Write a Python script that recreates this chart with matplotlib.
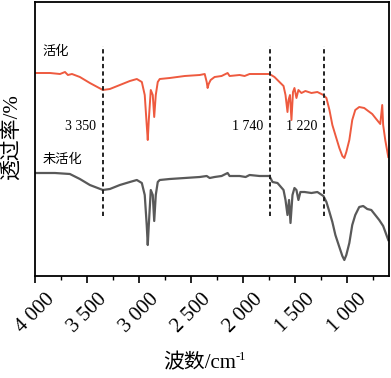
import matplotlib
matplotlib.use("Agg")
import matplotlib.pyplot as plt
import matplotlib.transforms as mtransforms

plt.rcParams['font.family'] = ['Liberation Serif', 'Noto Sans CJK SC']

# ---- data (transmittance in arbitrary units) ----
wn_act = [4000, 3856, 3760, 3712, 3684, 3645, 3569, 3473, 3348, 3281, 3185, 3089, 3022,
          2974, 2946, 2927, 2917, 2907, 2888, 2869, 2855, 2840, 2821, 2802, 2706, 2562,
          2418, 2370, 2351, 2342, 2332, 2313, 2275, 2208, 2150, 2131, 2035, 1987, 1939,
          1843, 1748, 1700, 1652, 1613, 1594, 1575, 1565, 1551, 1537, 1522, 1508, 1489,
          1470, 1441, 1403, 1345, 1288, 1230, 1201, 1172, 1144, 1115, 1077, 1048, 1029,
          1010, 981, 953, 924, 886, 838, 800, 761, 723, 684, 665, 656, 636, 607]
t_act = [227, 227, 226, 228, 225, 226, 223, 217, 210, 211, 215, 219, 221,
         218, 205, 175, 160, 180, 210, 205, 183, 205, 218, 221, 222, 224,
         225, 226, 218, 212, 216, 220, 223, 224, 227, 224, 225, 224, 226,
         226, 226, 223, 218, 214, 205, 188, 200, 205, 180, 208, 212, 202,
         210, 207, 209, 207, 208, 205, 202, 190, 175, 165, 152, 144, 142,
         148, 160, 180, 190, 193, 192, 189, 186, 181, 176, 195, 175, 160, 143]

wn_raw = [4000, 3808, 3665, 3569, 3473, 3348, 3281, 3185, 3089, 3022, 2974, 2946, 2927,
          2917, 2907, 2888, 2869, 2855, 2840, 2821, 2802, 2706, 2562, 2418, 2351, 2322,
          2275, 2208, 2150, 2131, 2035, 1977, 1939, 1843, 1748, 1719, 1671, 1613, 1594,
          1575, 1560, 1546, 1527, 1508, 1489, 1470, 1451, 1412, 1345, 1288, 1230, 1201,
          1172, 1144, 1115, 1077, 1048, 1029, 1010, 981, 953, 924, 886, 848, 809, 770,
          732, 694, 656, 607]
t_raw = [127, 127, 126, 121, 115, 110, 111, 115, 118, 120, 117, 105, 75,
         55, 75, 110, 105, 79, 105, 118, 120, 121, 122, 123, 124, 122,
         123, 124, 127, 124, 124, 123, 125, 124, 124, 118, 117, 110, 100,
         85, 100, 77, 105, 112, 110, 100, 108, 108, 107, 108, 104, 98,
         88, 78, 65, 53, 44, 40, 45, 57, 75, 85, 93, 94, 91, 90,
         85, 80, 74, 60]

peak_pos = [3350, 1740, 1220]
peak_labels = ['3 350', '1 740', '1 220']
xticks = [4000, 3500, 3000, 2500, 2000, 1500, 1000]
xtick_labels = ['4 000', '3 500', '3 000', '2 500', '2 000', '1 500', '1 000']
minor_ticks = [3750, 3250, 2750, 2250, 1750, 1250, 750]

fig = plt.figure(figsize=(3.91, 3.78), dpi=100)
ax = fig.add_axes([35/391, 1-276/378, 354/391, 274/378])

ax.plot(wn_act, t_act, color='#EE5A3F', lw=1.4)
ax.plot(wn_raw, t_raw, color='#595959', lw=1.6)

ax.set_xlim(4000, 600)
ax.set_ylim(24, 298)

ax.vlines(peak_pos, 84, 254, colors='#222222', linestyles=(0, (2.2, 1.6)), lw=1.4)
for p, lab in zip(peak_pos, peak_labels):
    ax.annotate(lab, xy=(p, 173), xytext=(-5, 0), textcoords='offset points',
                ha='right', va='center', fontsize=10)

ax.text(3930, 248, '活化', fontsize=9.5, ha='left', va='center')
ax.text(3930, 140, '未活化', fontsize=9.5, ha='left', va='center')

ax.set_yticks([])
ax.set_xticks(xticks)
ax.set_xticks(minor_ticks, minor=True)
ax.set_xticklabels(xtick_labels, fontsize=15, rotation=45, ha='center')
offset = mtransforms.ScaledTranslation(-12/100, 0, fig.dpi_scale_trans)
for lab in ax.get_xticklabels():
    lab.set_transform(lab.get_transform() + offset)
ax.tick_params(axis='x', which='major', direction='out', length=5, width=1.2, pad=5)
ax.tick_params(axis='x', which='minor', direction='out', length=3, width=1.0)
for s in ax.spines.values():
    s.set_linewidth(1.3)

fig.text(12/391, 1-137/378, '透过率/%', rotation=90, ha='center', va='center', fontsize=15)
fig.text(236/391, 1-364/378, '波数/cm', ha='right', va='center', fontsize=15)
fig.text(236/391, 1-357/378, '-1', ha='left', va='center', fontsize=9)

fig.savefig('out.png', dpi=100)
